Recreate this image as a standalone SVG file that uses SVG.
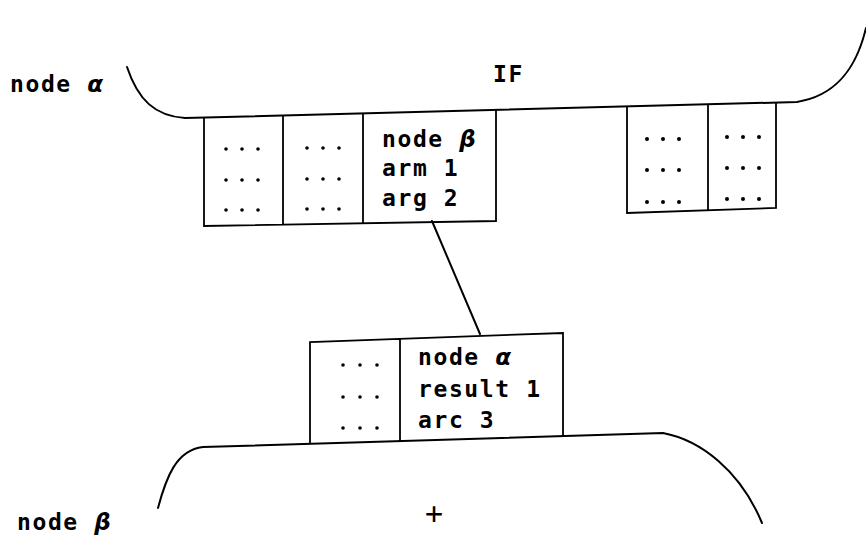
<svg xmlns="http://www.w3.org/2000/svg" width="866" height="538" viewBox="0 0 866 538">
<style>
.ln{fill:none;stroke:#000;stroke-width:2;stroke-linejoin:round;stroke-linecap:round}
.bx{fill:none;stroke:#000;stroke-width:1.8}
.t{font-family:"DejaVu Sans Mono","Liberation Mono",monospace;font-size:23px;font-weight:bold;letter-spacing:1.6px;fill:#000}
.g{font-family:"DejaVu Sans","Liberation Sans",sans-serif;font-style:italic;font-weight:bold}
.d{fill:#000}
</style>
<rect width="866" height="538" fill="#fff"/>
<g id="node-alpha">
<path class="ln" d="M127,67 C138,100 155,116 185,118 L797,102 C835,96 856,70 866,28"/>
<text class="t" x="10" y="92">node <tspan class="g">α</tspan></text>
<text class="t" x="493" y="82">IF</text>
</g>
<g id="ports-alpha-left">
<path class="bx" d="M204,117.4 L204,226 L496,221 L496,109.8 M283,115.3 L283,224.6 M363,113.3 L363,223.3"/>
<g class="d">
<circle cx="226" cy="149" r="1.8"/><circle cx="242" cy="149" r="1.8"/><circle cx="258" cy="149" r="1.8"/>
<circle cx="226" cy="180" r="1.8"/><circle cx="242" cy="180" r="1.8"/><circle cx="258" cy="180" r="1.8"/>
<circle cx="226" cy="210" r="1.8"/><circle cx="242" cy="210" r="1.8"/><circle cx="258" cy="210" r="1.8"/>
<circle cx="307" cy="148" r="1.8"/><circle cx="323" cy="148" r="1.8"/><circle cx="339" cy="148" r="1.8"/>
<circle cx="307" cy="179" r="1.8"/><circle cx="323" cy="179" r="1.8"/><circle cx="339" cy="179" r="1.8"/>
<circle cx="307" cy="209" r="1.8"/><circle cx="323" cy="209" r="1.8"/><circle cx="339" cy="209" r="1.8"/>
</g>
<text class="t" x="382" y="147">node <tspan class="g">β</tspan></text>
<text class="t" x="382" y="176">arm 1</text>
<text class="t" x="382" y="206">arg 2</text>
</g>
<g id="ports-alpha-right">
<path class="bx" d="M627,106.4 L627,213 L776,208 L776,102.5 M708,104.3 L708,210.3"/>
<g class="d">
<circle cx="647" cy="139" r="2"/><circle cx="663" cy="139" r="2"/><circle cx="679" cy="139" r="2"/>
<circle cx="647" cy="170" r="2"/><circle cx="663" cy="170" r="2"/><circle cx="679" cy="170" r="2"/>
<circle cx="647" cy="202" r="2"/><circle cx="663" cy="202" r="2"/><circle cx="679" cy="202" r="2"/>
<circle cx="727" cy="137" r="2"/><circle cx="743" cy="137" r="2"/><circle cx="759" cy="137" r="2"/>
<circle cx="727" cy="168" r="2"/><circle cx="743" cy="168" r="2"/><circle cx="759" cy="168" r="2"/>
<circle cx="727" cy="199" r="2"/><circle cx="743" cy="199" r="2"/><circle cx="759" cy="199" r="2"/>
</g>
</g>
<g id="ports-beta">
<path class="bx" d="M310,443.7 L310,342 L563,333 L563,436 M400,338.8 L400,441"/>
<g class="d">
<circle cx="343" cy="365" r="1.8"/><circle cx="360" cy="365" r="1.8"/><circle cx="377" cy="365" r="1.8"/>
<circle cx="343" cy="397" r="1.8"/><circle cx="360" cy="397" r="1.8"/><circle cx="377" cy="397" r="1.8"/>
<circle cx="343" cy="428" r="1.8"/><circle cx="360" cy="428" r="1.8"/><circle cx="377" cy="428" r="1.8"/>
</g>
<text class="t" x="418" y="365">node <tspan class="g">α</tspan></text>
<text class="t" x="418" y="397">result 1</text>
<text class="t" x="418" y="428">arc 3</text>
</g>
<g id="node-beta">
<path class="ln" d="M158,508 C166,478 176,450 203,447 L663,433 C700,440 740,470 762,523"/>
<text class="t" x="17" y="530">node <tspan class="g">β</tspan></text>
<text class="t" x="434" y="524" text-anchor="middle" style="font-size:30px;font-weight:normal;letter-spacing:0">+</text>
</g>
<g id="connectors">
<line class="ln" x1="432" y1="221" x2="480" y2="334"/>
</g>
</svg>
